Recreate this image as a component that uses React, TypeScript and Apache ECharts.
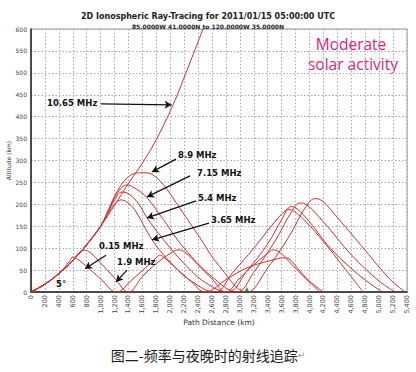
import React, { useEffect, useRef } from "react";
import * as echarts from "echarts";

// Shared 5° launch path (km, altitude km)
const launch: number[][] = [[0, 0], [200, 18], [400, 42], [600, 72], [800, 108], [1000, 150]];

const ray1065: number[][] = [...launch, [1200, 198], [1400, 248], [1600, 294], [1800, 348], [2040, 427], [2250, 510], [2471, 600], [2500, 612]];
const ray890: number[][] = [...launch, [1100, 183], [1200, 218], [1300, 245], [1400, 263], [1500, 271], [1620, 272], [1740, 268], [1900, 245], [2100, 200], [2400, 130], [2700, 60], [3100, 0],
  [3400, 55], [3700, 125], [3950, 195], [4080, 213], [4180, 208], [4400, 170], [4800, 95], [5150, 30], [5374, 0]];
const ray715: number[][] = [...launch, [1100, 182], [1200, 215], [1300, 238], [1380, 244], [1480, 238], [1667, 215], [1900, 165], [2200, 100], [2600, 35], [2960, 0],
  [3200, 45], [3500, 115], [3750, 185], [3865, 203], [3950, 200], [4200, 160], [4600, 85], [5000, 25], [5230, 0]];
const ray540: number[][] = [...launch, [1100, 180], [1200, 210], [1307, 228], [1420, 222], [1550, 200], [1667, 169], [1900, 120], [2200, 65], [2500, 22], [2830, 0],
  [3100, 48], [3400, 110], [3600, 165], [3740, 195], [3820, 190], [4000, 160], [4300, 100], [4700, 40], [5043, 0]];
const ray365: number[][] = [...launch, [1100, 178], [1200, 200], [1290, 210], [1380, 205], [1500, 185], [1740, 119], [2000, 68], [2300, 25], [2644, 0],
  [2900, 45], [3200, 100], [3500, 160], [3650, 185], [3700, 188], [3780, 184], [3950, 160], [4200, 115], [4500, 55], [4770, 0]];
const ray015: number[][] = [[0, 0], [200, 18], [400, 42], [600, 72], [680, 88], [760, 95], [850, 90], [1000, 66], [1200, 32], [1400, 0],
  [1600, 35], [1800, 65], [2000, 88], [2112, 96], [2200, 92], [2400, 62], [2600, 30], [2800, 0],
  [3000, 32], [3200, 62], [3400, 88], [3477, 96], [3560, 92], [3750, 62], [3950, 30], [4150, 0]];
const ray190: number[][] = [[0, 0], [200, 18], [400, 42], [560, 72], [600, 80], [650, 77], [800, 58], [1000, 30], [1230, 0],
  [1450, 28], [1650, 56], [1800, 78], [1850, 84], [1900, 80], [2100, 52], [2300, 24], [2500, 0],
  [2800, 28], [3100, 55], [3450, 72], [3650, 78], [3720, 74], [3850, 50], [4000, 25], [4200, 0]];

const receiver: number[][] = [[3100, 0]];

const xTicks = { min: 0, max: 5400, step: 200 };
const yTicks = { min: 0, max: 600, step: 50 };

const labels = [
  { name: "10.65 MHz", at: [230, 431] },
  { name: "8.9 MHz", at: [2111, 313] },
  { name: "7.15 MHz", at: [2384, 271] },
  { name: "5.4 MHz", at: [2398, 214] },
  { name: "3.65 MHz", at: [2585, 164] },
  { name: "0.15 MHz", at: [977, 105] },
  { name: "1.9 MHz", at: [1235, 68] },
  { name: "5°", at: [359, 18] },
];
const arrows = [
  { from: [1005, 429], to: [2020, 427] },
  { from: [2082, 303], to: [1738, 274] },
  { from: [2283, 265], to: [1666, 217] },
  { from: [2370, 208], to: [1666, 169] },
  { from: [2556, 157], to: [1738, 119] },
  { from: [1077, 84], to: [776, 53] },
  { from: [1379, 50], to: [1221, 23] },
];

const rayColor = "#dc2b2b";

export default function App() {
  const ref = useRef<HTMLDivElement>(null);
  useEffect(() => {
    if (!ref.current) return;
    const chart = echarts.init(ref.current, null, { renderer: "svg" });
    const rays = [ray1065, ray890, ray715, ray540, ray365, ray015, ray190];
    const series: any[] = rays.map((d, i) => ({
      type: "line",
      name: "ray" + i,
      data: d,
      smooth: 0.4,
      showSymbol: false,
      symbol: "none",
      lineStyle: { color: rayColor, width: 1 },
      silent: true,
      z: 2,
    }));
    series.push({
      type: "scatter",
      data: receiver,
      symbol: "triangle",
      symbolSize: 6,
      symbolOffset: [0, -2],
      itemStyle: { color: "#1f6b2a" },
      z: 5,
    });
    series.push({
      type: "line",
      data: [],
      z: 6,
      markLine: {
        silent: true,
        symbol: ["none", "arrow"],
        symbolSize: [6, 7],
        label: { show: false },
        lineStyle: { color: "#111", width: 1.3, type: "solid" },
        data: arrows.map((a) => [{ coord: a.from }, { coord: a.to }]),
      },
      markPoint: {
        silent: true,
        symbol: "circle",
        symbolSize: 0,
        label: {
          show: true,
          position: "right",
          distance: 0,
          color: "#111",
          fontWeight: "bold",
          fontSize: 8.5,
          fontFamily: "DejaVu Sans",
          formatter: (p: any) => p.name,
        },
        data: labels.map((l) => ({ name: l.name, coord: l.at })),
      },
    });
    chart.setOption({
      animation: false,
      backgroundColor: "#fff",
      title: [
        {
          text: "2D Ionospheric Ray-Tracing for 2011/01/15 05:00:00 UTC",
          left: "center",
          top: 7,
          textStyle: { fontSize: 8, fontWeight: "bold", color: "#222", fontFamily: "DejaVu Sans" },
        },
        {
          text: "85.0000W 41.0000N to 120.0000W 35.0000N",
          left: "center",
          top: 18,
          textStyle: { fontSize: 6, fontWeight: "bold", color: "#222", fontFamily: "DejaVu Sans" },
        },
      ],
      grid: {
        left: 31, right: 9, top: 29, bottom: 80,
        containLabel: false, outerBoundsMode: "none",
        show: true, borderColor: "#999", borderWidth: 1,
      },
      xAxis: {
        type: "value",
        min: xTicks.min,
        max: xTicks.max,
        interval: xTicks.step,
        name: "Path Distance (km)",
        nameLocation: "middle",
        nameGap: 26,
        nameMoveOverlap: false,
        nameTextStyle: { fontSize: 7.5, color: "#333", fontFamily: "DejaVu Sans" },
        axisLine: { lineStyle: { color: "#222", width: 1.5 } },
        axisTick: { show: false },
        axisLabel: {
          rotate: 90,
          fontSize: 6.5,
          color: "#444",
          margin: 3,
          fontFamily: "DejaVu Sans",
          formatter: (v: number) => v.toLocaleString("en-US"),
        },
        splitLine: { show: true, lineStyle: { color: "#aaa", type: [1.5, 2], width: 1 } },
      },
      yAxis: {
        type: "value",
        min: yTicks.min,
        max: yTicks.max,
        interval: yTicks.step,
        name: "Altitude (km)",
        nameLocation: "middle",
        nameGap: 20,
        nameMoveOverlap: false,
        nameTextStyle: { fontSize: 6, color: "#333", fontFamily: "DejaVu Sans" },
        axisLine: { show: true, lineStyle: { color: "#222", width: 1.5 } },
        axisTick: { show: false },
        axisLabel: { fontSize: 6, color: "#444", margin: 4, fontFamily: "DejaVu Sans" },
        splitLine: { show: true, lineStyle: { color: "#aaa", type: [1.5, 2], width: 1 } },
      },
      graphic: [
        {
          type: "text",
          x: 351,
          y: 36,
          style: {
            text: "Moderate",
            fontSize: 15.5,
            align: "center",
            fill: "#e01a7c",
            fontFamily: "Open Sans",
          },
        },
        {
          type: "text",
          x: 353,
          y: 56,
          style: {
            text: "solar activity",
            fontSize: 15.5,
            align: "center",
            fill: "#e01a7c",
            fontFamily: "Open Sans",
          },
        },
        {
          type: "text",
          left: "center",
          top: 348,
          style: {
            text: "图二-频率与夜晚时的射线追踪{m|↵}",
            fontSize: 14,
            fill: "#1a1a1a",
            fontFamily: "Noto Sans CJK SC",
            rich: { m: { fontSize: 9, fill: "#999", fontFamily: "DejaVu Sans" } },
          },
        },
      ],
      series,
    });
    return () => chart.dispose();
  }, []);
  return <div ref={ref} style={{ position: "fixed", left: 0, top: 0, width: 416, height: 372 }} />;
}
